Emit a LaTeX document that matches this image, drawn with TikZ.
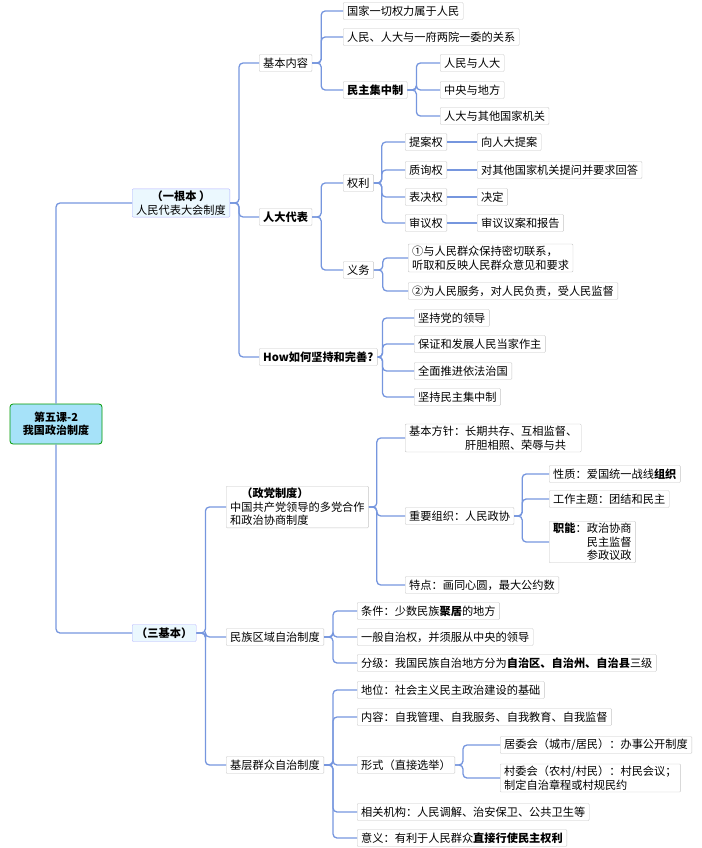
\documentclass[tikz,border=0pt]{standalone}
\usepackage{fontspec}
\setmainfont{Noto Sans CJK SC}
\definecolor{linkblue}{RGB}{118,150,222}
\begin{document}
\begin{tikzpicture}[x=1pt, y=-1pt, font=\fontsize{11.2}{13.5}\selectfont]
    % Styles
    \tikzstyle{topic} = [draw=gray!45, fill=white, rounded corners=1pt, anchor=west, align=left, inner xsep=4pt, inner ysep=2pt, minimum height=17pt]
    \tikzstyle{main} = [topic, draw=blue!30, fill=cyan!8, align=center]
    \tikzstyle{root} = [draw=green!60!black, fill=cyan!35, rounded corners=3pt, thick, align=center, font=\fontsize{11}{13.5}\selectfont\bfseries, minimum width=92pt, minimum height=40pt]
    \tikzstyle{branch} = [draw=linkblue, line width=1.3pt, rounded corners=4pt]

    \useasboundingbox (0,0) rectangle (701,848);

    % Root and main branches
    \node [root] (lesson) at (56,424) {第五课-2\\我国政治制度};
    \node [main] (npc) at (132,203) {\textbf{（一根本 ）}\\人民代表大会制度};
    \node [main] (three) at (132,633) {\textbf{（三基本）}};
    \draw[branch] (lesson.north) |- (npc.west);
    \draw[branch] (lesson.south) |- (three.west);

    % People's congress
    \node [topic] (content) at (259,63) {基本内容};
    \node [topic, font=\fontsize{11.2}{13.5}\selectfont\bfseries] (deputy) at (259,217) {人大代表};
    \node [topic, font=\fontsize{11.2}{13.5}\selectfont\bfseries] (how) at (259,357) {How如何坚持和完善?};
    \foreach \c in {content,deputy,how} \draw[branch] (npc.east) -- ++(9,0) |- (\c.west);

    \node [topic] (power) at (343,11) {国家一切权力属于人民};
    \node [topic] (relation) at (343,37) {人民、人大与一府两院一委的关系};
    \node [topic, font=\fontsize{11.2}{13.5}\selectfont\bfseries] (centr) at (343,90) {民主集中制};
    \foreach \c in {power,relation,centr} \draw[branch] (content.east) -- ++(9,0) |- (\c.west);

    \node [topic] (dc1) at (440,63) {人民与人大};
    \node [topic] (dc2) at (440,90) {中央与地方};
    \node [topic] (dc3) at (440,116) {人大与其他国家机关};
    \foreach \c in {dc1,dc2,dc3} \draw[branch] (centr.east) -- ++(9,0) |- (\c.west);

    \node [topic] (rights) at (343,183) {权利};
    \node [topic] (duties) at (343,270) {义务};
    \foreach \c in {rights,duties} \draw[branch] (deputy.east) -- ++(9,0) |- (\c.west);

    \node [topic] (r1) at (405,142) {提案权};
    \node [topic] (r2) at (405,170) {质询权};
    \node [topic] (r3) at (405,197) {表决权};
    \node [topic] (r4) at (405,223) {审议权};
    \node [topic] (r1a) at (477,142) {向人大提案};
    \node [topic] (r2a) at (477,170) {对其他国家机关提问并要求回答};
    \node [topic] (r3a) at (477,197) {决定};
    \node [topic] (r4a) at (477,223) {审议议案和报告};
    \foreach \c in {r1,r2,r3,r4} {
        \draw[branch] (rights.east) -- ++(8,0) |- (\c.west);
        \draw[branch] (\c.east) -- (\c a.west);
    }

    \node [topic] (d1) at (408,258) {①与人民群众保持密切联系，\\听取和反映人民群众意见和要求};
    \node [topic] (d2) at (408,291) {②为人民服务，对人民负责，受人民监督};
    \foreach \c in {d1,d2} \draw[branch] (duties.east) -- ++(9,0) |- (\c.west);

    \node [topic] (h1) at (414,318) {坚持党的领导};
    \node [topic] (h2) at (414,344) {保证和发展人民当家作主};
    \node [topic] (h3) at (414,371) {全面推进依法治国};
    \node [topic] (h4) at (414,397) {坚持民主集中制};
    \foreach \c in {h1,h2,h3,h4} \draw[branch] (how.east) -- ++(5,0) |- (\c.west);

    % Three basic systems
    \node [topic] (party) at (226,507) {\quad\textbf{（政党制度）}\\中国共产党领导的多党合作\\和政治协商制度};
    \node [topic] (ethnic) at (226,637) {民族区域自治制度};
    \node [topic] (grass) at (226,765) {基层群众自治制度};
    \foreach \c in {party,ethnic,grass} \draw[branch] (three.east) -- ++(9,0) |- (\c.west);

    \node [topic] (policy) at (405,438) {基本方针：长期共存、互相监督、\\\phantom{基本方针：}肝胆相照、荣辱与共};
    \node [topic] (cppcc) at (405,516) {重要组织：人民政协};
    \node [topic] (feature) at (405,585) {特点：画同心圆，最大公约数};
    \foreach \c in {policy,cppcc,feature} \draw[branch] (party.east) -- ++(8,0) |- (\c.west);

    \node [topic] (nature) at (549,474) {性质：爱国统一战线\textbf{组织}};
    \node [topic] (theme) at (549,499) {工作主题：团结和民主};
    \node [topic] (func) at (549,542) {\textbf{职能}：政治协商\\\phantom{职能：}民主监督\\\phantom{职能：}参政议政};
    \foreach \c in {nature,theme,func} \draw[branch] (cppcc.east) -- ++(8,0) |- (\c.west);

    \node [topic] (e1) at (357,611) {条件：少数民族\textbf{聚居}的地方};
    \node [topic] (e2) at (357,637) {一般自治权，并须服从中央的领导};
    \node [topic] (e3) at (357,663) {分级：我国民族自治地方分为\textbf{自治区、自治州、自治县}三级};
    \foreach \c in {e1,e2,e3} \draw[branch] (ethnic.east) -- ++(9,0) |- (\c.west);

    \node [topic] (g1) at (357,690) {地位：社会主义民主政治建设的基础};
    \node [topic] (g2) at (357,717) {内容：自我管理、自我服务、自我教育、自我监督};
    \node [topic] (g3) at (357,765) {形式（直接选举）};
    \node [topic] (g4) at (357,812) {相关机构：人民调解、治安保卫、公共卫生等};
    \node [topic] (g5) at (357,838) {意义：有利于人民群众\textbf{直接行使民主权利}};
    \foreach \c in {g1,g2,g3,g4,g5} \draw[branch] (grass.east) -- ++(9,0) |- (\c.west);

    \node [topic] (urban) at (500,745) {居委会（城市/居民）：办事公开制度};
    \node [topic] (rural) at (500,778) {村委会（农村/村民）：村民会议；\\制定自治章程或村规民约};
    \foreach \c in {urban,rural} \draw[branch] (g3.east) -- ++(8,0) |- (\c.west);
\end{tikzpicture}
\end{document}
